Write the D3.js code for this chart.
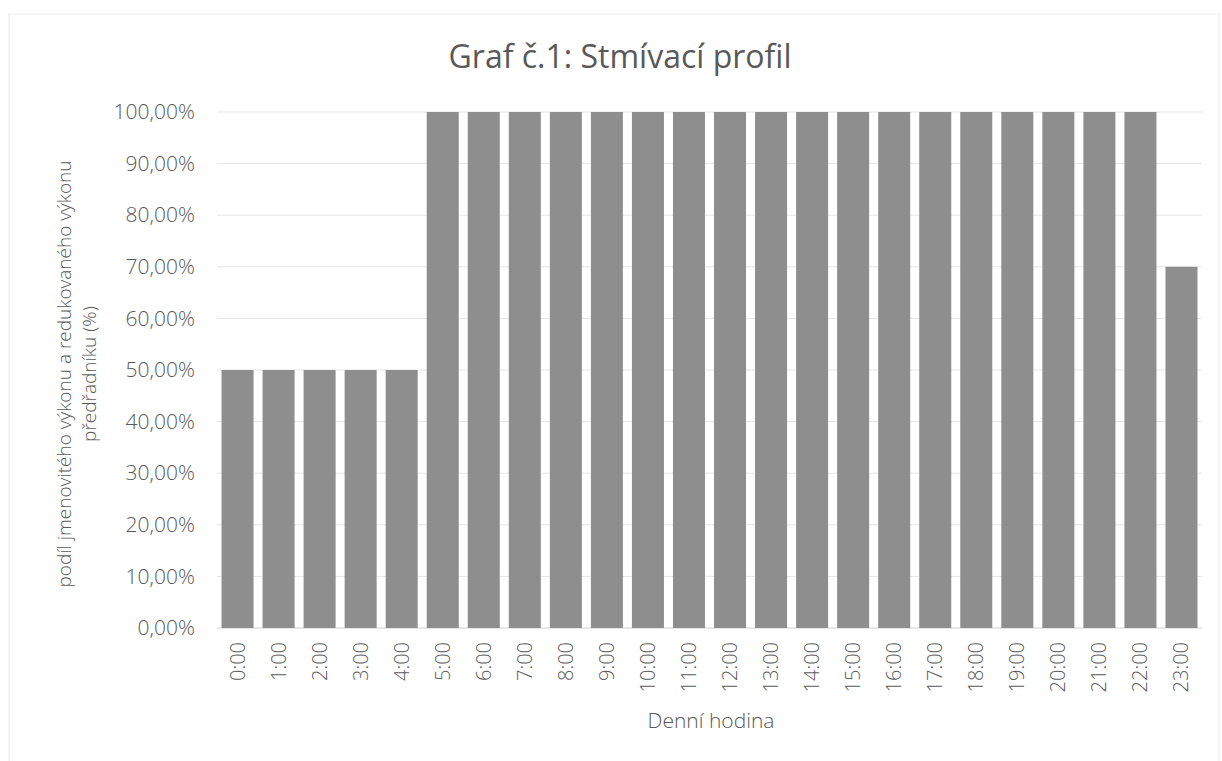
<!DOCTYPE html>
<html>
<head>
<meta charset="utf-8">
<script src="https://cdn.jsdelivr.net/npm/d3@7"></script>
<style>
  body { margin: 0; background: #fff; }
  text { font-family: "Open Sans", "Noto Sans", sans-serif; font-weight: 300; fill: #595959; }
</style>
</head>
<body>
<div id="chart"></div>
<script>
const FRAME_WIDTH = 1222;
const FRAME_HEIGHT = 761;
const MARGINS = { left: 217, right: 20, top: 112, bottom: 133 };

const HOURS = ["0:00", "1:00", "2:00", "3:00", "4:00", "5:00", "6:00", "7:00", "8:00", "9:00",
  "10:00", "11:00", "12:00", "13:00", "14:00", "15:00", "16:00", "17:00", "18:00", "19:00",
  "20:00", "21:00", "22:00", "23:00"];
const SHARE = [0.5, 0.5, 0.5, 0.5, 0.5, 1, 1, 1, 1, 1, 1, 1, 1, 1, 1, 1, 1, 1, 1, 1, 1, 1, 1, 0.7];
const Y_TICKS = [0, 0.1, 0.2, 0.3, 0.4, 0.5, 0.6, 0.7, 0.8, 0.9, 1.0];

const TITLE = "Graf č.1: Stmívací profil";
const X_TITLE = "Denní hodina";
const Y_TITLE = ["podíl jmenovitého výkonu a redukovaného výkonu", "předřadníku (%)"];

const VIS_WIDTH = FRAME_WIDTH - MARGINS.left - MARGINS.right;
const VIS_HEIGHT = FRAME_HEIGHT - MARGINS.top - MARGINS.bottom;

const svg = d3.select("#chart")
  .append("svg")
  .attr("width", FRAME_WIDTH)
  .attr("height", FRAME_HEIGHT);

// faint chart border like the scanned page
svg.append("rect")
  .attr("x", 9).attr("y", 14)
  .attr("width", FRAME_WIDTH - 12).attr("height", FRAME_HEIGHT - 10)
  .attr("fill", "none")
  .attr("stroke", "#ececec");

const X = d3.scaleBand()
  .domain(HOURS)
  .range([0, VIS_WIDTH])
  .paddingInner(0.22)
  .paddingOuter(0.11);

const Y = d3.scaleLinear()
  .domain([0, 1])
  .range([VIS_HEIGHT, 0]);

const plot = svg.append("g")
  .attr("transform", "translate(" + MARGINS.left + "," + MARGINS.top + ")");

// gridlines
plot.append("g")
  .selectAll("line")
  .data(Y_TICKS)
  .enter()
  .append("line")
  .attr("x1", 0)
  .attr("x2", VIS_WIDTH)
  .attr("y1", d => Y(d))
  .attr("y2", d => Y(d))
  .attr("stroke", d => d === 0 ? "#d0d0d0" : "#e6e6e6")
  .attr("stroke-width", 1);

// bars
plot.selectAll("rect.bar")
  .data(SHARE)
  .enter()
  .append("rect")
  .attr("class", "bar")
  .attr("x", (d, i) => X(HOURS[i]))
  .attr("y", d => Y(d))
  .attr("width", X.bandwidth())
  .attr("height", d => VIS_HEIGHT - Y(d))
  .attr("fill", "#8e8e8e");

// y axis
const fmt = d => d3.format(".2f")(d * 100).replace(".", ",") + "%";
const yAxis = plot.append("g")
  .call(d3.axisLeft(Y).tickValues(Y_TICKS).tickFormat(fmt).tickSize(0).tickPadding(22));
yAxis.select(".domain").remove();
yAxis.selectAll("text")
  .attr("font-size", "21px")
  .style("fill", "#595959");

// x axis
const xAxis = plot.append("g")
  .attr("transform", "translate(0," + VIS_HEIGHT + ")")
  .call(d3.axisBottom(X).tickSize(0));
xAxis.select(".domain").remove();
xAxis.selectAll("text")
  .attr("font-size", "20px")
  .style("fill", "#595959")
  .attr("text-anchor", "end")
  .attr("transform", "rotate(-90)")
  .attr("x", -14)
  .attr("y", 0)
  .attr("dy", "0.35em");

// title
svg.append("text")
  .attr("x", 620)
  .attr("y", 68)
  .attr("text-anchor", "middle")
  .attr("font-size", "32px")
  .style("font-weight", 400)
  .text(TITLE);

// x title
svg.append("text")
  .attr("x", 711)
  .attr("y", 728)
  .attr("text-anchor", "middle")
  .attr("font-size", "21px")
  .text(X_TITLE);

// y title, two lines
svg.append("text")
  .attr("transform", "translate(71,374) rotate(-90)")
  .attr("text-anchor", "middle")
  .attr("font-size", "19px")
  .selectAll("tspan")
  .data(Y_TITLE)
  .enter()
  .append("tspan")
  .attr("x", 0)
  .attr("dy", (d, i) => i === 0 ? 0 : "1.3em")
  .text(d => d);
</script>
</body>
</html>
